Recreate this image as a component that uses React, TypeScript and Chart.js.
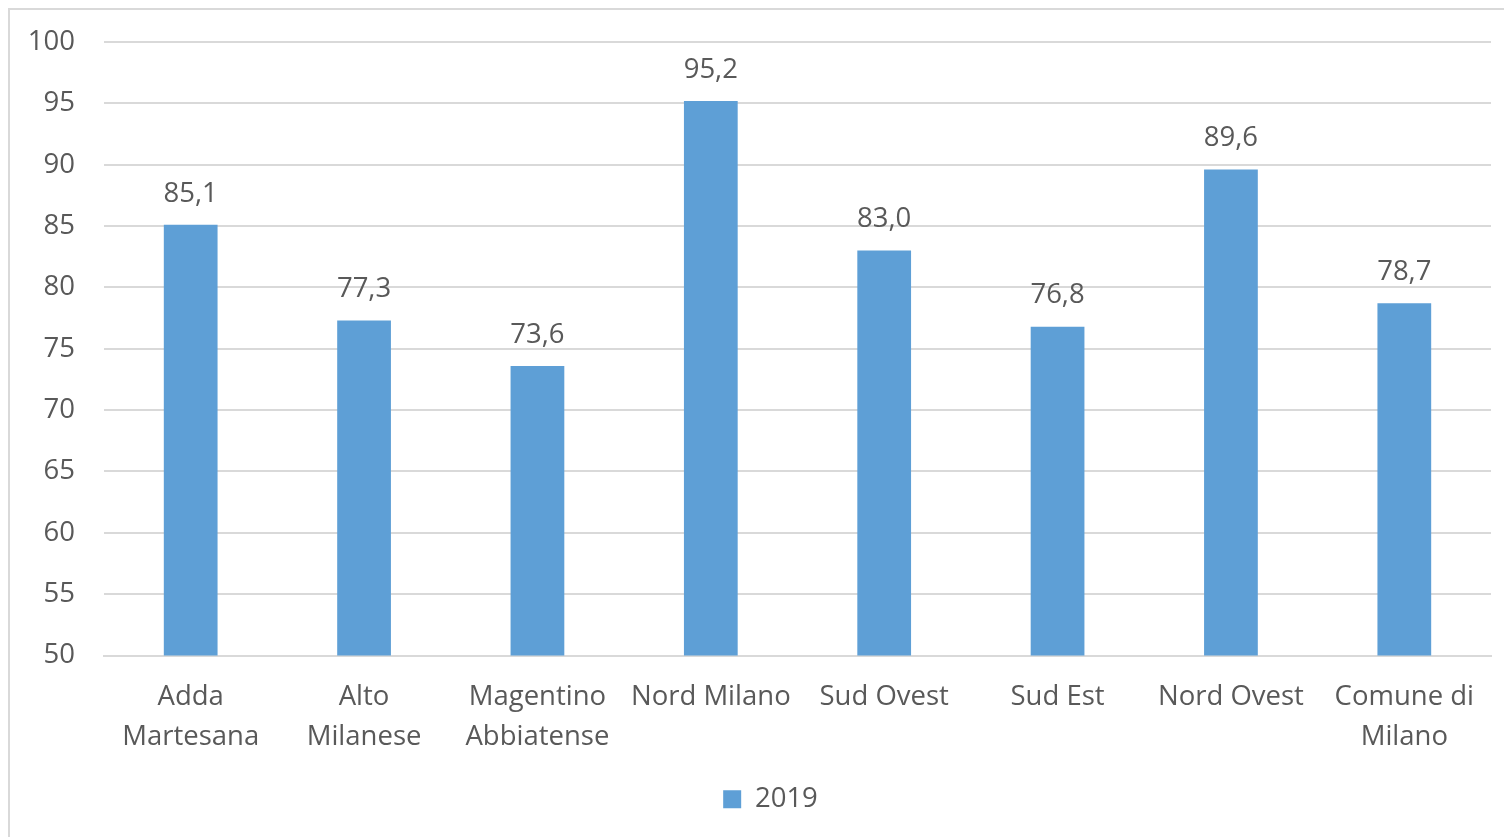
import React, { useEffect, useRef } from "react";
import { Chart, registerables } from "chart.js";

Chart.register(...registerables);

const categories: (string | string[])[] = [
  ["Adda", "Martesana"],
  ["Alto", "Milanese"],
  ["Magentino", "Abbiatense"],
  "Nord Milano",
  "Sud Ovest",
  "Sud Est",
  "Nord Ovest",
  ["Comune di", "Milano"],
];
const values2019: number[] = [85.1, 77.3, 73.6, 95.2, 83.0, 76.8, 89.6, 78.7];
const seriesLabel = "2019";
const yTicksMin = 50;
const yTicksMax = 100;
const yTickStep = 5;

const FONT = "'Open Sans', Lato, sans-serif";
const FSIZE = 27.5;
const TEXT = "#595959";
const BAR = "#5E9FD6";
const GRID = "#d9d9d9";
const LEGEND_SHIFT = 25;

const dataLabels = {
  id: "dataLabels",
  afterDatasetsDraw(chart: any) {
    const ctx = chart.ctx;
    const meta = chart.getDatasetMeta(0);
    ctx.save();
    ctx.font = `${FSIZE}px ${FONT}`;
    ctx.fillStyle = TEXT;
    ctx.textAlign = "center";
    ctx.textBaseline = "middle";
    meta.data.forEach((el: any, i: number) => {
      const v = chart.data.datasets[0].data[i] as number;
      ctx.fillText(v.toFixed(1).replace(".", ","), el.x, el.y - 31);
    });
    ctx.restore();
  },
};

const legendShift = {
  id: "legendShift",
  afterLayout(chart: any) {
    if (chart.legend) {
      chart.legend.left += LEGEND_SHIFT;
      chart.legend.right += LEGEND_SHIFT;
    }
  },
};

export default function App() {
  const ref = useRef<HTMLCanvasElement>(null);
  useEffect(() => {
    if (!ref.current) return;
    const chart = new Chart(ref.current, {
      type: "bar",
      data: {
        labels: categories,
        datasets: [
          {
            label: seriesLabel,
            data: values2019,
            backgroundColor: BAR,
            borderWidth: 0,
            categoryPercentage: 1,
            barPercentage: 0.31,
          },
        ],
      },
      options: {
        animation: false,
        responsive: false,
        devicePixelRatio: 1,
        layout: { padding: { left: 0, right: 13, top: 42, bottom: 14 } },
        scales: {
          x: {
            grid: { display: false, drawTicks: false },
            border: { display: true, color: GRID, width: 2 },
            ticks: {
              color: TEXT,
              font: { family: FONT, size: FSIZE, lineHeight: 40 / FSIZE },
              padding: 22,
              maxRotation: 0,
              minRotation: 0,
              autoSkip: false,
            },
            afterFit: (s: any) => {
              s.height = 112;
            },
          },
          y: {
            min: yTicksMin,
            max: yTicksMax,
            grid: { color: GRID, lineWidth: 2, drawTicks: false },
            border: { display: false },
            ticks: {
              stepSize: yTickStep,
              color: TEXT,
              font: { family: FONT, size: FSIZE, lineHeight: 0.5 },
              padding: 29,
            },
            afterFit: (s: any) => {
              s.width = 104;
            },
          },
        },
        plugins: {
          legend: {
            position: "bottom",
            labels: {
              color: TEXT,
              font: { family: FONT, size: FSIZE, lineHeight: 1.1 },
              boxWidth: 18,
              boxHeight: 18,
              padding: 18,
            },
          },
          tooltip: { enabled: false },
        },
      },
      plugins: [dataLabels, legendShift],
    });
    return () => chart.destroy();
  }, []);
  return (
    <div style={{ position: "fixed", left: 0, top: 0, width: 1504, height: 837, background: "#fff", overflow: "hidden" }}>
      <div
        style={{
          position: "absolute",
          left: 8,
          top: 8,
          width: 1600,
          height: 900,
          borderLeft: `2px solid ${GRID}`,
          borderTop: `2px solid ${GRID}`,
        }}
      />
      <canvas ref={ref} width={1504} height={837} style={{ position: "absolute", left: 0, top: 0 }} />
    </div>
  );
}
